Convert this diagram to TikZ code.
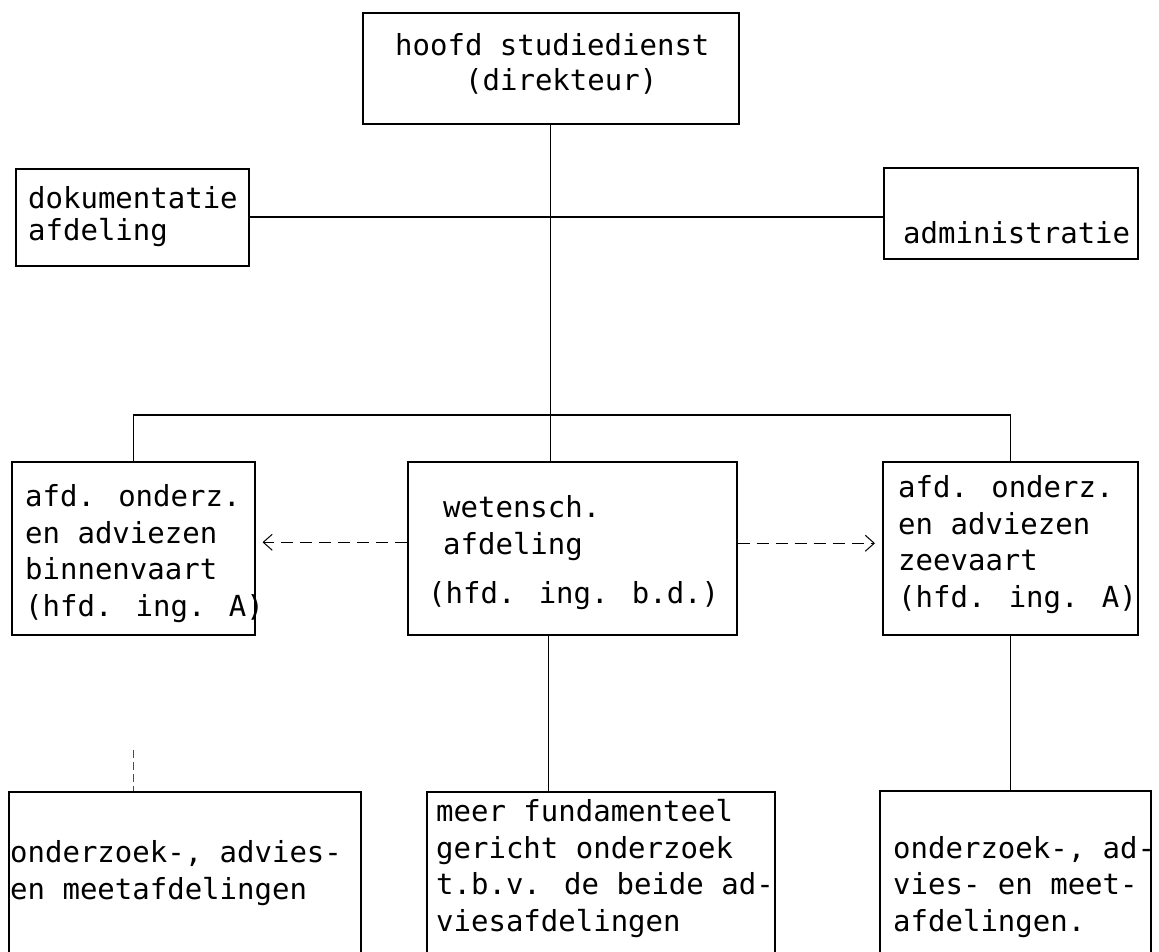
\documentclass[tikz,border=0pt]{standalone}
\usepackage{fontspec}
\newfontfamily\plotmono{DejaVu Sans Mono}
\usetikzlibrary{arrows.meta}
\tikzset{
  box/.style={draw, line width=1.5pt, rectangle, inner sep=0pt, anchor=north west},
  txt/.style={font=\fontsize{29}{36.5}\selectfont\plotmono, align=left, anchor=base west, inner sep=0pt},
  link/.style={line width=1.1pt},
  dasharrow/.style={line width=1pt, dash pattern=on 12pt off 7pt, -{Straight Barb[length=9pt,width=16pt,line width=1pt]}, shorten >=7pt},
  faint/.style={line width=0.7pt, dash pattern=on 8pt off 4pt, black!70}
}
\begin{document}
\begin{tikzpicture}[x=1pt,y=-1pt]
\useasboundingbox (0,0) rectangle (1159,951);
\clip (0,0) rectangle (1159,951);
% boxes
\node[box, minimum width=376pt, minimum height=111pt] (top) at (362,12) {};
\node[box, minimum width=233pt, minimum height=97pt] (dok) at (15,168) {};
\node[box, minimum width=254pt, minimum height=91pt] (adm) at (883,167) {};
\node[box, minimum width=243pt, minimum height=173pt] (lmid) at (11,461) {};
\node[box, minimum width=329pt, minimum height=173pt] (mid) at (407,461) {};
\node[box, minimum width=255pt, minimum height=173pt] (rmid) at (882,461) {};
\node[box, minimum width=352pt, minimum height=200pt] (bleft) at (8,791) {};
\node[box, minimum width=348pt, minimum height=200pt] (bmid) at (426,791) {};
\node[box, minimum width=271pt, minimum height=200pt] (bright) at (879,790) {};
% texts (anchor = baseline of the last line)
\node[txt] (ttop1) at (395,55) {hoofd studiedienst};
\node[txt] (ttop2) at (465,90) {(direkteur)};
\node[txt, font=\fontsize{29}{32}\selectfont\plotmono] (tdok) at (28,240) {dokumentatie\\afdeling};
\node[txt] (tadm) at (903,243) {administratie};
\node[txt] (tlmid) at (25,616) {afd. onderz.\\en adviezen\\binnenvaart\\(hfd. ing. A)};
\node[txt] (tmid1) at (443,554) {wetensch.\\afdeling};
\node[txt] (tmid2) at (428,603) {(hfd. ing. b.d.)};
\node[txt] (trmid) at (898,607) {afd. onderz.\\en adviezen\\zeevaart\\(hfd. ing. A)};
\node[txt] (tbleft) at (10,899) {onderzoek-, advies-\\en meetafdelingen};
\node[txt] (tbmid) at (436,931) {meer fundamenteel\\gericht onderzoek\\t.b.v. de beide ad-\\viesafdelingen};
\node[txt] (tbright) at (893,931) {onderzoek-, ad-\\vies- en meet-\\afdelingen.};
% connectors
\coordinate (bus) at (550,415);
\coordinate (stub) at (133,750);
\draw[link] (top.south) -- (top.south |- mid.north);
\draw[link] (dok.east |- 0,217) -- (adm.west |- 0,217);
\draw[link] (lmid.north) |- (bus) -| (rmid.north);
\draw[dasharrow] ([yshift=6pt]mid.west) -- ([yshift=6pt]mid.west -| lmid.east);
\draw[dasharrow] ([yshift=5pt]mid.east) -- ([yshift=5pt]mid.east -| rmid.west);
\draw[link] ([xshift=-24pt]mid.south) -- ([xshift=-24pt]mid.south |- bmid.north);
\draw[link] (rmid.south) -- (rmid.south |- bright.north);
\draw[faint] (stub) -- (stub |- bleft.north);
\end{tikzpicture}
\end{document}
